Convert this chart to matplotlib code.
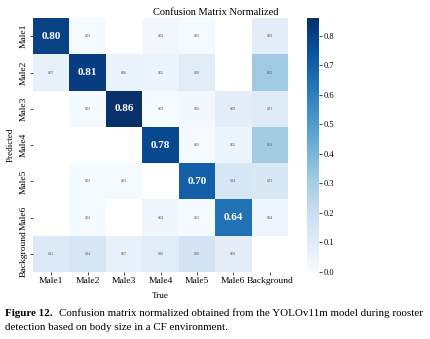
import numpy as np
import seaborn as sns
from matplotlib import pyplot as plt

labels = ['Male1', 'Male2', 'Male3', 'Male4', 'Male5', 'Male6', 'Background']

# rows = predicted, cols = true (0 = empty cell)
male1 = [0.80, 0.01, 0.00, 0.03, 0.01, 0.00, 0.09]
male2 = [0.07, 0.81, 0.06, 0.05, 0.10, 0.00, 0.32]
male3 = [0.00, 0.01, 0.86, 0.01, 0.02, 0.09, 0.11]
male4 = [0.00, 0.00, 0.00, 0.78, 0.01, 0.05, 0.31]
male5 = [0.00, 0.01, 0.01, 0.00, 0.70, 0.14, 0.13]
male6 = [0.00, 0.01, 0.00, 0.04, 0.01, 0.64, 0.04]
background = [0.12, 0.14, 0.07, 0.10, 0.16, 0.09, 0.00]

cm = np.array([male1, male2, male3, male4, male5, male6, background])

plt.rcParams['font.family'] = ['Liberation Serif', 'DejaVu Serif']

fig = plt.figure(figsize=(4.31, 3.39), dpi=100)
ax = fig.add_axes([0.0766, 0.1976, 0.5916, 0.749])
cax = fig.add_axes([0.7123, 0.1976, 0.0278, 0.749])

sns.heatmap(cm, mask=cm < 0.005, cmap='Blues', vmin=0, vmax=cm.max(),
            ax=ax, cbar_ax=cax, xticklabels=labels, yticklabels=labels,
            square=False)

for i in range(cm.shape[0]):
    for j in range(cm.shape[1]):
        v = cm[i, j]
        if v < 0.005:
            continue
        if v > 0.5:
            ax.text(j + 0.5, i + 0.5, f'{v:.2f}', ha='center', va='center',
                    color='white', fontsize=8, fontweight='bold')
        else:
            ax.text(j + 0.5, i + 0.5, f'{v:.2f}', ha='center', va='center',
                    color='#444444', fontsize=2.6)

fig.text(0.5, 0.975, 'Confusion Matrix Normalized', fontsize=7.5,
         ha='center', va='top')
ax.set_xlabel('True', fontsize=6.5, labelpad=5)
ax.set_ylabel('Predicted', fontsize=6.5, labelpad=4)
ax.tick_params(axis='both', labelsize=6.8, length=2, width=0.5, pad=1.5)
plt.setp(ax.get_xticklabels(), rotation=0)
plt.setp(ax.get_yticklabels(), rotation=90, va='center')

cax.set_yticks(np.arange(0, 0.85, 0.1))
cax.tick_params(labelsize=6, length=2, width=0.5, pad=1)
for s in cax.spines.values():
    s.set_visible(False)

# caption
cap_size = 7.9
fig.canvas.draw()
r = fig.canvas.get_renderer()
t = fig.text(0.012, 0.068, 'Figure 12.', fontsize=cap_size, fontweight='bold',
             va='baseline')
w = t.get_window_extent(renderer=r).width / fig.bbox.width
fig.text(0.012 + w + 0.014, 0.068,
         'Confusion matrix normalized obtained from the YOLOv11m model during rooster',
         fontsize=cap_size, va='baseline')
fig.text(0.012, 0.028, 'detection based on body size in a CF environment.',
         fontsize=cap_size, va='baseline')

fig.savefig('out.png', dpi=100)
